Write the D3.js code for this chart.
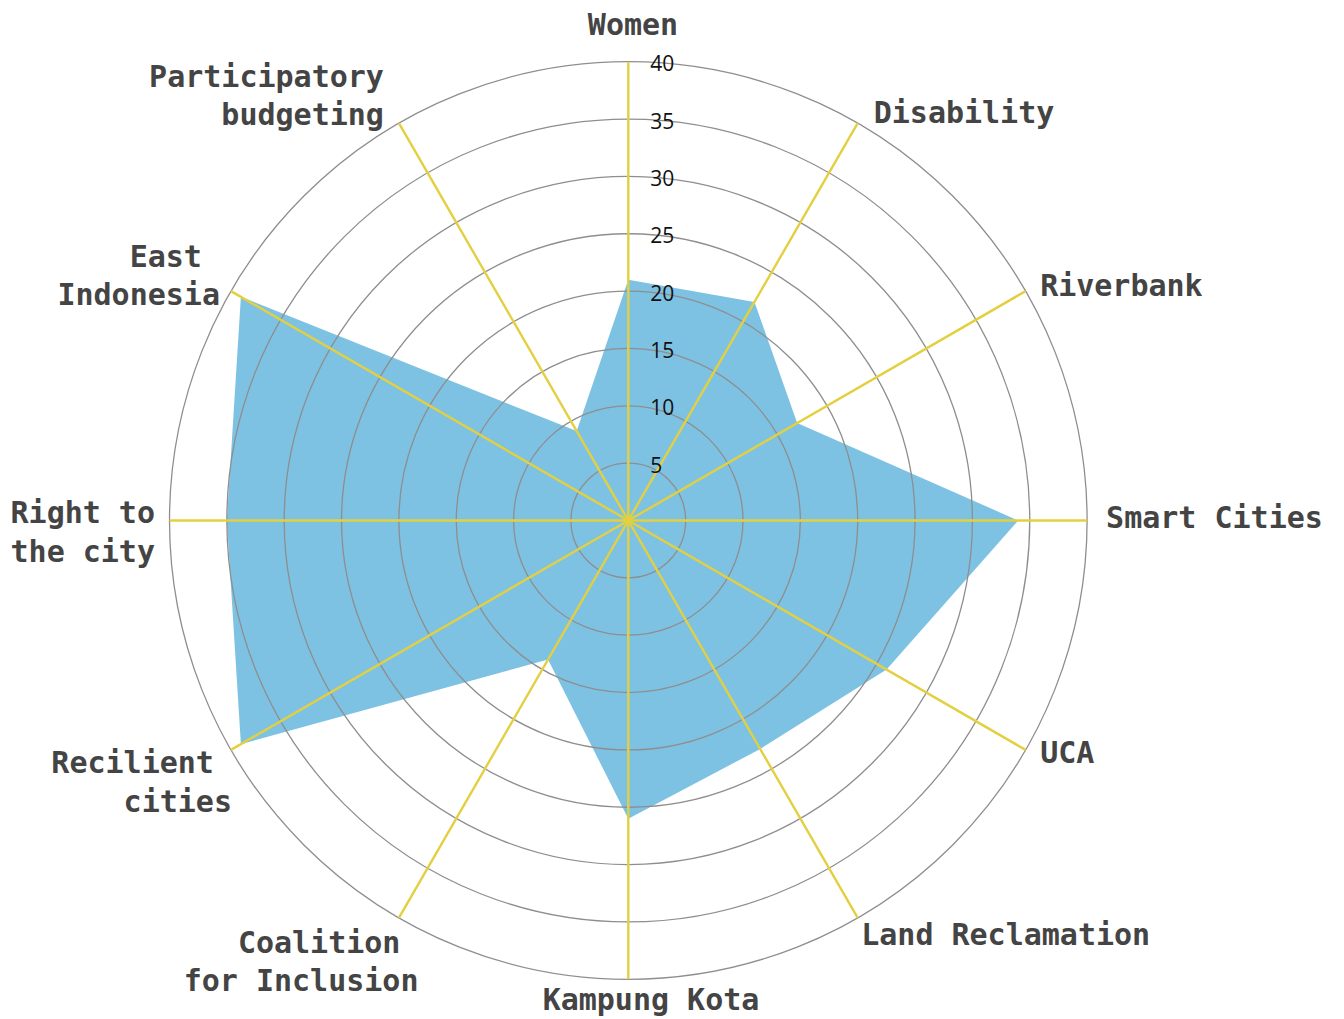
<!DOCTYPE html>
<html>
<head>
<meta charset="utf-8">
<script src="https://cdn.jsdelivr.net/npm/d3@7"></script>
<style>
  body { margin: 0; background: #fff; }
  svg { display: block; }
</style>
</head>
<body>
<div id="chart"></div>
<script>
// categories, clockwise from the top
var categories = ["Women", "Disability", "Riverbank", "Smart Cities", "UCA", "Land Reclamation",
    "Kampung Kota", "Coalition for Inclusion", "Recilient cities", "Right to the city",
    "East Indonesia", "Participatory budgeting"];
// how the labels break over lines
var labelLines = [["Women"], ["Disability"], ["Riverbank"], ["Smart Cities"], ["UCA"], ["Land Reclamation"],
    ["Kampung Kota"], ["Coalition ", "for Inclusion"], ["Recilient ", "cities"], ["Right to", "the city"],
    ["East ", "Indonesia"], ["Participatory", "budgeting"]];
var values = [21, 22, 17, 34, 26, 23, 26, 14, 39, 35, 39, 9];
var radialTicks = [5, 10, 15, 20, 25, 30, 35, 40];

var width = 1344, height = 1019;
var cx = 628.3, cy = 520.5, outerR = 458.8;

// label placement relative to the end of each spoke: [dx, dy of first baseline]
var labelOffset = [[4.7, -26.7], [16, 0], [14.5, 5], [19, 7.5], [14.5, 13], [3.5, 27],
    [22.7, 30.7], [19.6, 34.9], [1, 23.4], [-14.5, 2.8], [-11, -24.4], [-15, -36.5]];
var lineHeight = 38.7;

var svg = d3.select("#chart").append("svg")
    .attr("width", width)
    .attr("height", height);

var g = svg.append("g").attr("transform", "translate(" + cx + "," + cy + ")");

var r = d3.scaleLinear().domain([0, 40]).range([0, outerR]);
var angle = d3.scaleLinear().domain([0, categories.length]).range([0, 2 * Math.PI]);

// filled area
var radarLine = d3.lineRadial()
    .angle(function(d, i) { return angle(i); })
    .radius(function(d) { return r(d); })
    .curve(d3.curveLinearClosed);

g.append("path")
    .datum(values)
    .attr("d", radarLine)
    .attr("fill", "#7ec2e3")
    .attr("stroke", "none");

// grid circles
g.selectAll("circle.grid")
    .data(radialTicks)
    .enter().append("circle")
    .attr("class", "grid")
    .attr("r", function(d) { return r(d); })
    .attr("fill", "none")
    .attr("stroke", "#8e8e8e")
    .attr("stroke-width", 1.3);

// spokes
g.selectAll("line.spoke")
    .data(categories)
    .enter().append("line")
    .attr("class", "spoke")
    .attr("x1", 0).attr("y1", 0)
    .attr("x2", function(d, i) { return d3.pointRadial(angle(i), r(40))[0]; })
    .attr("y2", function(d, i) { return d3.pointRadial(angle(i), r(40))[1]; })
    .attr("stroke", "#e3d040")
    .attr("stroke-width", 2.4);

// radial tick labels along the top spoke
g.selectAll("text.tick")
    .data(radialTicks)
    .enter().append("text")
    .attr("class", "tick")
    .attr("x", 22)
    .attr("y", function(d) { return -r(d) + 9.5; })
    .attr("font-family", "'Open Sans', sans-serif")
    .attr("font-size", "21px")
    .attr("fill", "#111")
    .text(function(d) { return d; });

// category labels
var labels = g.selectAll("text.cat")
    .data(categories)
    .enter().append("text")
    .attr("class", "cat")
    .attr("font-family", "'DejaVu Sans Mono', monospace")
    .attr("font-weight", "bold")
    .attr("font-size", "30px")
    .attr("fill", "#444")
    .style("white-space", "pre")
    .attr("text-anchor", function(d, i) {
        var x = d3.pointRadial(angle(i), 1)[0];
        return Math.abs(x) < 0.1 ? "middle" : (x > 0 ? "start" : "end");
    });

labels.each(function(d, i) {
    var p = d3.pointRadial(angle(i), r(40));
    var ax = p[0] + labelOffset[i][0], ay = p[1] + labelOffset[i][1];
    d3.select(this).selectAll("tspan")
        .data(labelLines[i])
        .enter().append("tspan")
        .attr("x", ax)
        .attr("y", function(line, j) { return ay + j * lineHeight; })
        .text(function(line) { return line; });
});
</script>
</body>
</html>
